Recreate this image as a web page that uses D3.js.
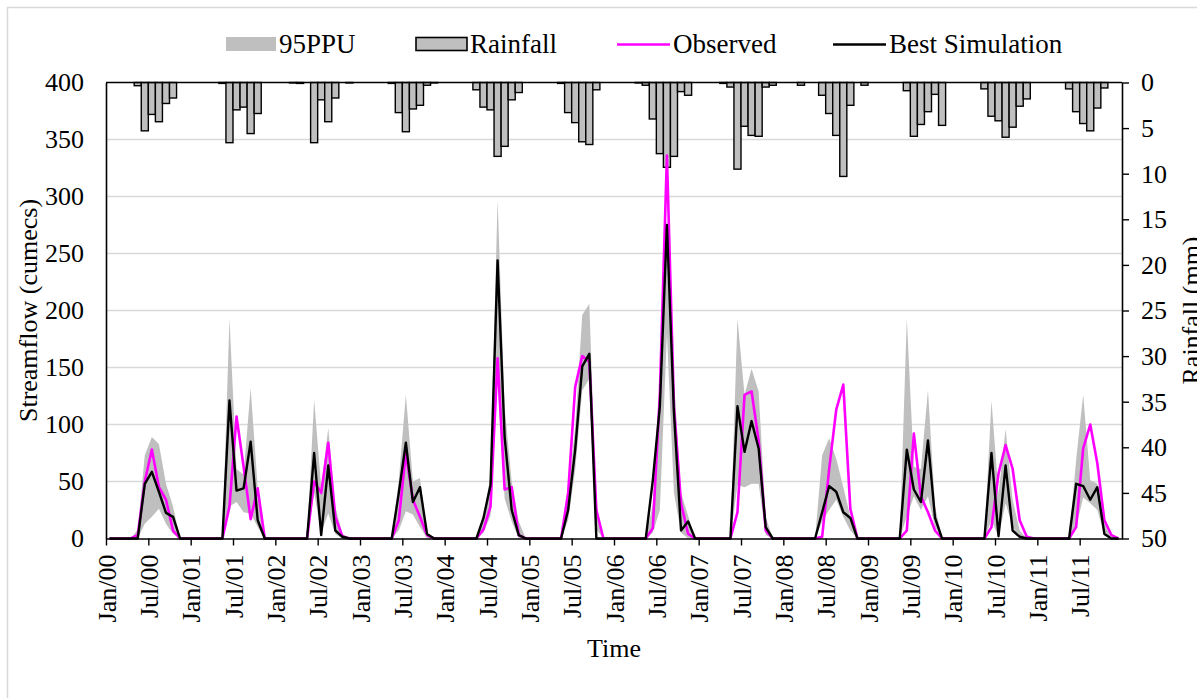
<!DOCTYPE html>
<html>
<head>
<meta charset="utf-8">
<script src="https://cdn.jsdelivr.net/npm/d3@7"></script>
<style>
  body { margin: 0; background: #fff; }
  text { font-family: "Liberation Serif", "Times New Roman", serif; fill: #000; }
</style>
</head>
<body>
<svg id="chart" width="1197" height="698"></svg>
<script>
// monthly series Jan/2000 .. Dec/2011, one row per year
var rainfall = [
  0,0,0,0,0.35,5.3,3.5,4.3,2.3,1.7,0,0,
  0,0,0,0,0.1,6.6,3.0,2.7,5.6,3.4,0,0,
  0,0,0.05,0.1,0,6.6,1.9,4.3,1.7,0,0.05,0,
  0,0,0,0,0.1,3.3,5.4,2.9,2.5,0.3,0.05,0,
  0,0,0,0,0.8,2.7,3.0,8.1,7.0,1.9,1.1,0,
  0,0,0,0,0.1,3.3,4.4,6.5,6.8,0.8,0,0,
  0,0,0,0.05,0.3,4.0,7.8,9.3,8.1,1.0,1.4,0,
  0,0,0,0.1,0.5,9.5,4.8,5.8,5.9,0.5,0.3,0,
  0,0,0.3,0,0,1.4,3.4,5.8,10.3,2.5,0,0.3,
  0,0,0,0,0,0.9,5.9,4.6,3.2,1.3,4.7,0,
  0,0,0,0,0.7,3.7,4.2,6.0,4.9,2.6,1.8,0,
  0,0,0,0,0.7,3.2,4.5,5.3,2.8,0.6,0,0
];

var observed = [
  0,0,0,0,3,50,78,45,34,7,0,0,
  0,0,0,0,0,28,107,63,17,44,0,0,
  0,0,0,0,0,50,40,84,19,2,0,0,
  0,0,0,0,0,16,75,34,19,3,0,0,
  0,0,0,0,0,8,28,158,43,45,3,0,
  0,0,0,0,0,40,133,160,155,25,0,0,
  0,0,0,0,0,9,127,336,115,31,4,0,
  0,0,0,0,0,23,126,129,86,7,0,0,
  0,0,0,0,0,1.5,61,113,135,26,0,0,
  0,0,0,0,0,7,92,37,23,7,0,0,
  0,0,0,0,0,10,57,82,61,16,1.5,0,
  0,0,0,0,0,10,79,100,66,16,3,0
];

var bestSim = [
  0,0,0,0,0,48,58.5,41,22.5,19,0,0,
  0,0,0,0,0,121,42,44,85,16,0,0,
  0,0,0,0,0,75,3,64,7,1.5,0,0,
  0,0,0,0,0,40,84,32,45,4,0,0,
  0,0,0,0,0,18,47,244,89,25,3,0,
  0,0,0,0,0,25,78,151,162,0,0,0,
  0,0,0,0,0,51,116,275,110,7,15,0,
  0,0,0,0,0,116,76,103,79,10,0,0,
  0,0,0,0,0,23,46,41,23,18,0,0,
  0,0,0,0,0,78,43,32,86,18,0,0,
  0,0,0,0,0,75,2,64,7,1.5,0,0,
  0,0,0,0,0,48,46,34,45,4,0,0
];

var ppuLow = [
  0,0,0,0,0,13,19,26,13,4,0,0,
  0,0,0,0,0,28,32,23,22,10,0,0,
  0,0,0,0,0,40,5,22,4,0,0,0,
  0,0,0,0,0,7,24,21,10,0,0,0,
  0,0,0,0,0,5,20,140,35,15,0,0,
  0,0,0,0,0,16,60,130,140,8,0,0,
  0,0,0,0,0,5,25,180,40,5,0,0,
  0,0,0,0,0,47,45,48,48,3,0,0,
  0,0,0,0,0,15,25,34,19,7,0,0,
  0,0,0,0,0,19,37,25,37,10,0,0,
  0,0,0,0,0,16,1.5,31,10,1.5,0,0,
  0,0,0,0,0,10,36,31,25,4,0,0
];

var ppuHigh = [
  0,0,0,0,8,73,89,83,48,28,0,0,
  0,0,0,0,0,193,61,56,132,45,0,0,
  0,0,0,0,0,122,45,97,28,4,0,0,
  0,0,0,0,0,51,126,50,53,5,0,0,
  0,0,0,0,0,20,55,297,115,50,15,0,
  0,0,0,0,0,40,98,196,206,30,0,0,
  0,0,0,0,0,30,130,280,140,40,20,0,
  0,0,0,0,0,193,126,149,129,19,0,0,
  0,0,0,0,0,73,88,70,45,19,0,0,
  0,0,0,0,0,193,63,61,130,28,0,0,
  0,0,0,0,0,121,39,96,34,7,0,0,
  0,0,0,0,0,69,126,51,48,13,0,0
];

var tickLabels = [
  'Jan/00','Jul/00','Jan/01','Jul/01','Jan/02','Jul/02','Jan/03','Jul/03',
  'Jan/04','Jul/04','Jan/05','Jul/05','Jan/06','Jul/06','Jan/07','Jul/07',
  'Jan/08','Jul/08','Jan/09','Jul/09','Jan/10','Jul/10','Jan/11','Jul/11'
];
var flowTicks = [0,50,100,150,200,250,300,350,400];
var rainTicks = [0,5,10,15,20,25,30,35,40,45,50];

var legendItems = ['95PPU','Rainfall','Observed','Best Simulation'];

(function() {
  var svg = d3.select('#chart');
  var LEFT = 106, RIGHT = 1122, TOP = 82.5, BOTTOM = 538.5;
  var FONT = 26;

  // outer frame
  svg.append('rect')
    .attr('x', 7.5).attr('y', 7.5)
    .attr('width', 1200).attr('height', 700)
    .style('fill', '#fff').style('stroke', '#d9d9d9').style('stroke-width', 1.5);

  var x = d3.scaleLinear().domain([0, rainfall.length]).range([LEFT, RIGHT]);
  var yFlow = d3.scaleLinear().domain([0, 400]).range([BOTTOM, TOP]);
  var yRain = d3.scaleLinear().domain([0, 50]).range([TOP, BOTTOM]);
  var step = x(1) - x(0);

  // gridlines
  svg.append('g').selectAll('line')
    .data(flowTicks.filter(function(d) { return d > 0 && d < 400; }))
    .enter().append('line')
      .attr('x1', LEFT).attr('x2', RIGHT)
      .attr('y1', yFlow).attr('y2', yFlow)
      .style('stroke', '#d9d9d9').style('stroke-width', 1.5);

  // 95PPU band
  var band = d3.area()
    .x(function(d, i) { return x(i + 0.5); })
    .y0(function(d, i) { return yFlow(ppuLow[i]); })
    .y1(function(d) { return yFlow(d); });

  svg.append('path')
    .datum(ppuHigh)
    .attr('d', band)
    .style('fill', '#bfbfbf');

  // rainfall bars hanging from the top
  svg.append('g').selectAll('rect')
    .data(rainfall.map(function(v, i) { return {v: v, i: i}; }).filter(function(d) { return d.v > 0; }))
    .enter().append('rect')
      .attr('x', function(d) { return x(d.i); })
      .attr('y', yRain(0))
      .attr('width', step)
      .attr('height', function(d) { return yRain(d.v) - yRain(0); })
      .style('fill', '#bfbfbf')
      .style('stroke', '#000')
      .style('stroke-width', 1.4);

  var line = d3.line()
    .x(function(d, i) { return x(i + 0.5); })
    .y(function(d) { return yFlow(d); });

  svg.append('path')
    .datum(observed)
    .attr('d', line)
    .style('fill', 'none').style('stroke', '#ff00ff')
    .style('stroke-width', 2.6).style('stroke-linejoin', 'round');

  svg.append('path')
    .datum(bestSim)
    .attr('d', line)
    .style('fill', 'none').style('stroke', '#000')
    .style('stroke-width', 2.4).style('stroke-linejoin', 'round');

  // axes
  var xAxis = d3.axisBottom(x)
    .tickValues(d3.range(0, rainfall.length, 6))
    .tickSize(7).tickSizeOuter(0)
    .tickFormat(function(d, i) { return tickLabels[i]; });

  var gx = svg.append('g')
    .attr('transform', 'translate(0,' + BOTTOM + ')')
    .call(xAxis);
  gx.select('.domain').style('stroke-width', 1.6);
  gx.selectAll('.tick line').style('stroke-width', 1.4);
  gx.selectAll('.tick text')
    .style('font-size', FONT + 'px')
    .style('font-family', '"Liberation Serif", serif')
    .attr('text-anchor', 'end')
    .attr('transform', 'rotate(-90)')
    .attr('x', -16).attr('y', 0).attr('dy', '0.35em');

  var gl = svg.append('g')
    .attr('transform', 'translate(' + LEFT + ',0)')
    .call(d3.axisLeft(yFlow).tickValues(flowTicks).tickSize(0).tickSizeOuter(0).tickPadding(22));
  gl.select('.domain').style('stroke-width', 1.6);
  gl.selectAll('.tick text')
    .style('font-size', FONT + 'px')
    .style('font-family', '"Liberation Serif", serif');

  var gr = svg.append('g')
    .attr('transform', 'translate(' + RIGHT + ',0)')
    .call(d3.axisRight(yRain).tickValues(rainTicks).tickSize(7).tickSizeOuter(0).tickPadding(12));
  gr.select('.domain').style('stroke-width', 1.6);
  gr.selectAll('.tick line').style('stroke-width', 1.4);
  gr.selectAll('.tick text')
    .style('font-size', FONT + 'px')
    .style('font-family', '"Liberation Serif", serif');

  // top line
  svg.append('line')
    .attr('x1', LEFT).attr('x2', RIGHT)
    .attr('y1', TOP).attr('y2', TOP)
    .style('stroke', '#000').style('stroke-width', 1.6);

  // axis titles
  svg.append('text')
    .attr('transform', 'translate(37,' + ((TOP + BOTTOM) / 2) + ') rotate(-90)')
    .attr('text-anchor', 'middle')
    .style('font-size', FONT + 'px')
    .text('Streamflow (cumecs)');

  // cut by the right edge, as in the reference
  svg.append('text')
    .attr('transform', 'translate(1200,' + ((TOP + BOTTOM) / 2) + ') rotate(-90)')
    .attr('text-anchor', 'middle')
    .style('font-size', FONT + 'px')
    .text('Rainfall (mm)');

  svg.append('text')
    .attr('x', (LEFT + RIGHT) / 2).attr('y', 657)
    .attr('text-anchor', 'middle')
    .style('font-size', FONT + 'px')
    .text('Time');

  // legend
  var lg = svg.append('g');
  var lx = [226, 416, 617, 833];
  var tx = [279, 470, 673, 889];
  lg.append('rect').attr('x', lx[0]).attr('y', 37).attr('width', 50).attr('height', 14)
    .style('fill', '#bfbfbf');
  lg.append('rect').attr('x', lx[1]).attr('y', 37.5).attr('width', 51).attr('height', 13)
    .style('fill', '#bfbfbf').style('stroke', '#000').style('stroke-width', 1.6);
  lg.append('line').attr('x1', lx[2]).attr('x2', lx[2] + 53).attr('y1', 44.5).attr('y2', 44.5)
    .style('stroke', '#ff00ff').style('stroke-width', 2.6);
  lg.append('line').attr('x1', lx[3]).attr('x2', lx[3] + 53).attr('y1', 44.5).attr('y2', 44.5)
    .style('stroke', '#000').style('stroke-width', 2.4);
  lg.selectAll('text')
    .data(legendItems)
    .enter().append('text')
      .attr('x', function(d, i) { return tx[i]; })
      .attr('y', 53)
      .style('font-size', '27px')
      .text(function(d) { return d; });
})();
</script>
</body>
</html>
